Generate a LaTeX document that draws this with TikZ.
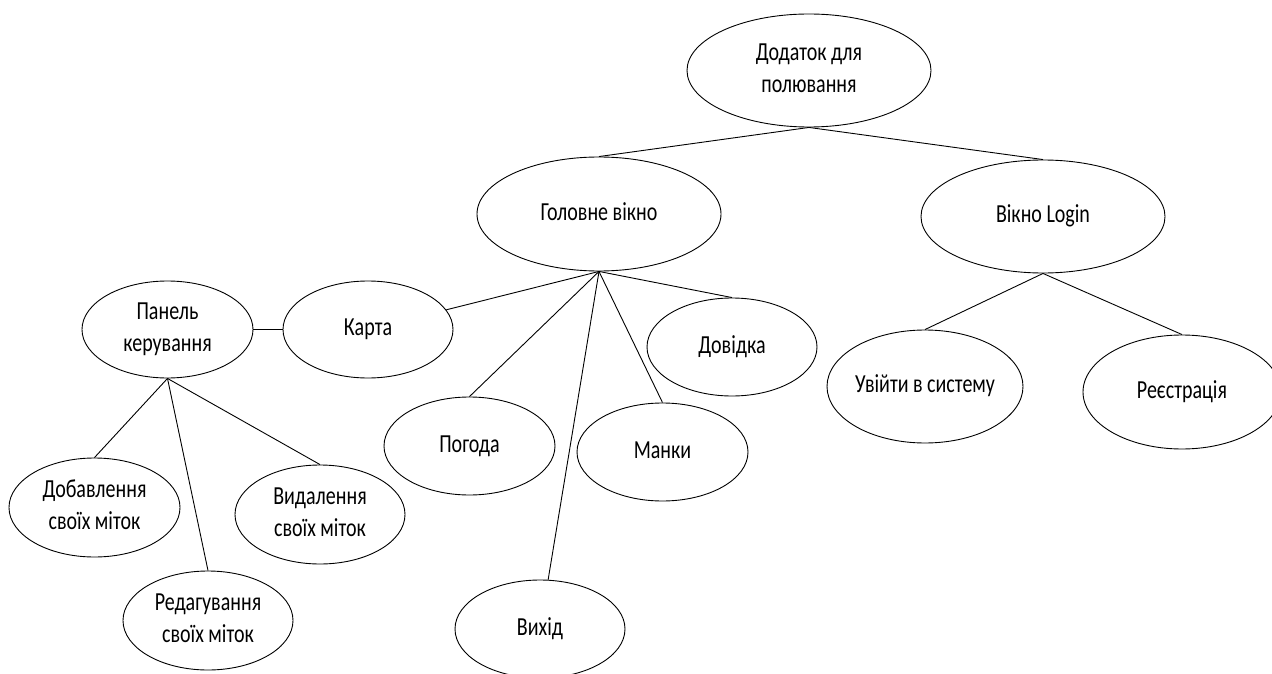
\documentclass[tikz,border=0pt]{standalone}
\usepackage{fontspec}
\usepackage{graphicx}
\setmainfont{Carlito}
\usetikzlibrary{shapes.geometric}
\newcommand\tx[1]{\scalebox{1}[1.3]{\begin{tabular}{@{}c@{}}#1\end{tabular}}}
\tikzset{
  oval/.style={draw=black, line width=0.9pt, ellipse, inner sep=0pt,
    font=\fontsize{20}{24.4}\selectfont, text=black},
  link/.style={draw=black, line width=0.9pt}
}
\begin{document}
\begin{tikzpicture}[x=1pt,y=-1pt]
\useasboundingbox (0,0) rectangle (1272,674);
\node[oval, minimum width=244pt, minimum height=113pt] (root) at (809,70.5) {\tx{Додаток для\\полювання}};
\node[oval, minimum width=244pt, minimum height=114pt] (gol) at (599,214) {\tx{Головне вікно}};
\node[oval, minimum width=244pt, minimum height=113pt] (log) at (1043,216.5) {\tx{Вікно Login}};
\node[oval, minimum width=171pt, minimum height=97pt] (pan) at (167.5,329.5) {\tx{Панель\\керування}};
\node[oval, minimum width=170pt, minimum height=97pt] (kar) at (368,329.5) {\tx{Карта}};
\node[oval, minimum width=170pt, minimum height=98pt] (dov) at (732,347) {\tx{Довідка}};
\node[oval, minimum width=171pt, minimum height=98pt] (pog) at (469.5,446) {\tx{Погода}};
\node[oval, minimum width=171pt, minimum height=98pt] (man) at (662.5,452) {\tx{Манки}};
\node[oval, minimum width=170pt, minimum height=98pt] (vyh) at (540,629) {\tx{Вихід}};
\node[oval, minimum width=196pt, minimum height=113pt, inner xsep=-4pt] (uvi) at (925,386.5) {\tx{Увійти в систему}};
\node[oval, minimum width=198pt, minimum height=114pt] (rej) at (1182,392) {\tx{Реєстрація}};
\node[oval, minimum width=171pt, minimum height=99pt] (dob) at (94.5,507.5) {\tx{Добавлення\\своїх міток}};
\node[oval, minimum width=170pt, minimum height=99pt] (vyd) at (320,514.5) {\tx{Видалення\\своїх міток}};
\node[oval, minimum width=170pt, minimum height=99pt] (red) at (208,620.5) {\tx{Редагування\\своїх міток}};
% connectors
\draw[link] (root.south) -- (gol.north);
\draw[link] (root.south) -- (log.north);
\draw[link] (gol.south) -- (kar);
\draw[link] (gol.south) -- (dov.north);
\draw[link] (gol.south) -- (pog.north);
\draw[link] (gol.south) -- (man.north);
\draw[link] (gol.south) -- (vyh);
\draw[link] (pan.east) -- (kar.west);
\draw[link] (pan.south) -- (dob.north);
\draw[link] (pan.south) -- (red.north);
\draw[link] (pan.south) -- (vyd.north);
\draw[link] (log.south) -- (uvi.north);
\draw[link] (log.south) -- (rej.north);
\end{tikzpicture}
\end{document}
